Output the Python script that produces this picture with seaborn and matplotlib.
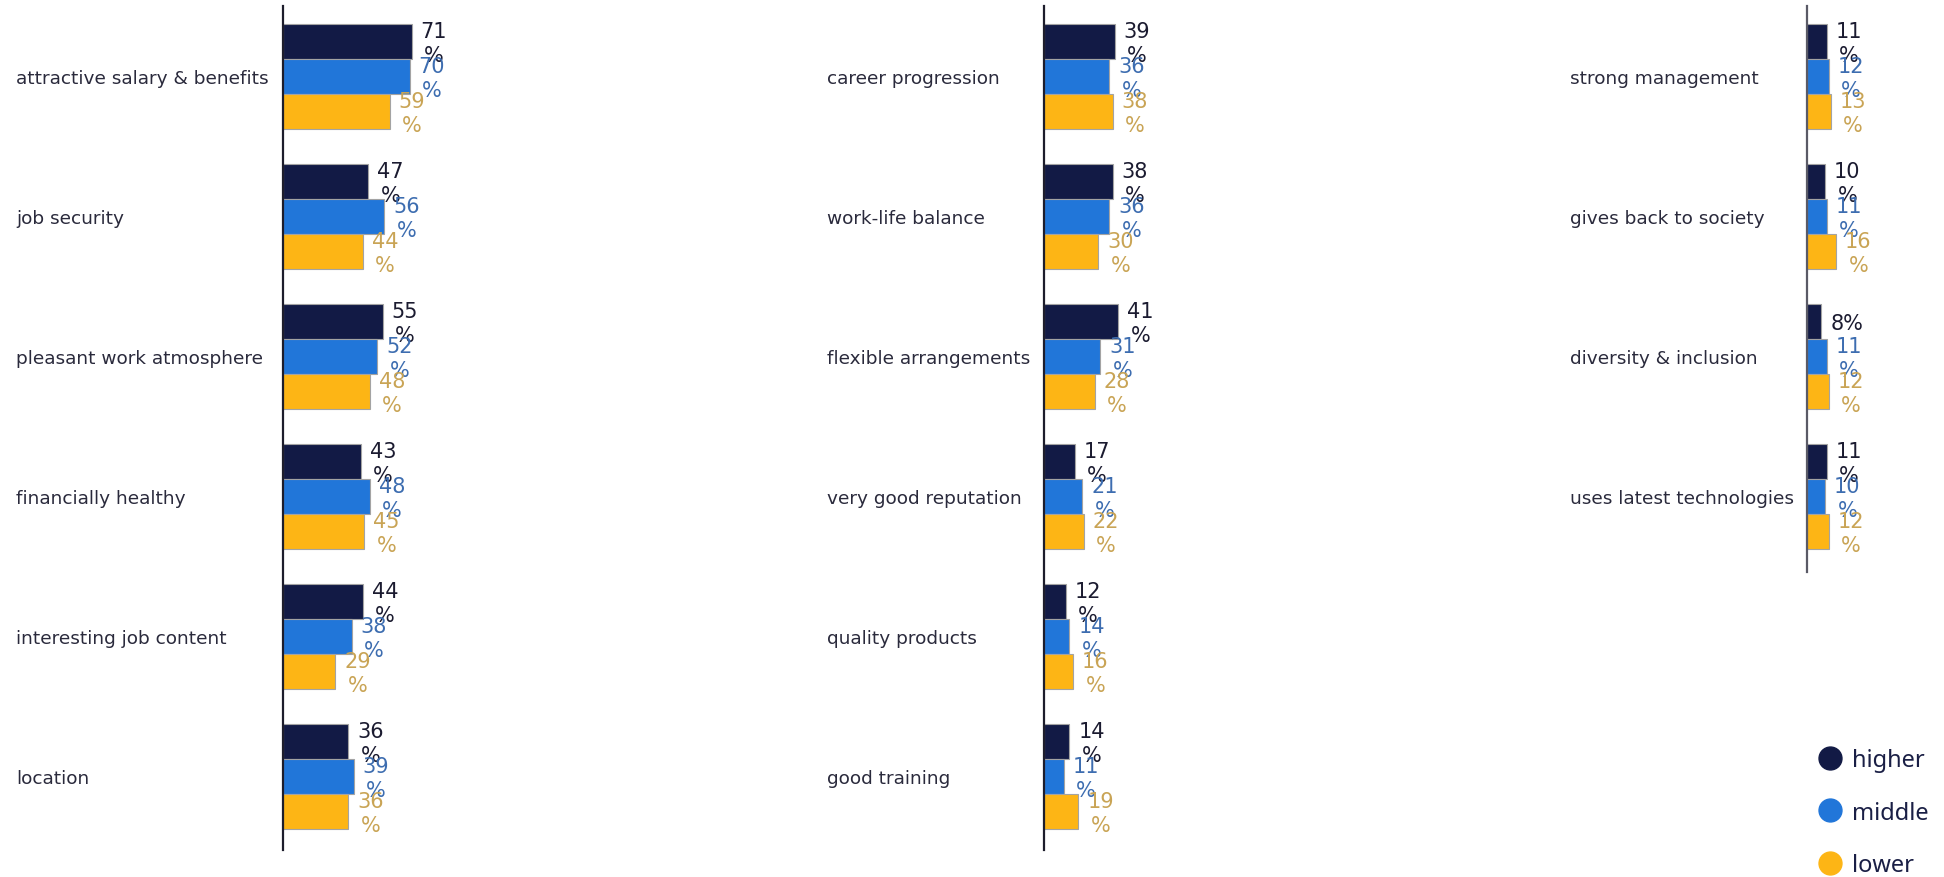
import matplotlib
matplotlib.use("Agg")
import matplotlib.pyplot as plt
from matplotlib.lines import Line2D
import pandas as pd
import seaborn as sns

# Education groups (hue) and their colours
groups = ["higher", "middle", "lower"]
bar_colors = ["#121a45", "#2176d9", "#fdb515"]
label_colors = ["#1b1b30", "#3d6db0", "#c9a455"]

# Left column of attributes
cats_left = ["attractive salary & benefits", "job security", "pleasant work atmosphere",
             "financially healthy", "interesting job content", "location"]
higher_left = [71, 47, 55, 43, 44, 36]
middle_left = [70, 56, 52, 48, 38, 39]
lower_left = [59, 44, 48, 45, 29, 36]

# Middle column of attributes
cats_mid = ["career progression", "work-life balance", "flexible arrangements",
            "very good reputation", "quality products", "good training"]
higher_mid = [39, 38, 41, 17, 12, 14]
middle_mid = [36, 36, 31, 21, 14, 11]
lower_mid = [38, 30, 28, 22, 16, 19]

# Right column of attributes
cats_right = ["strong management", "gives back to society", "diversity & inclusion",
              "uses latest technologies"]
higher_right = [11, 10, 8, 11]
middle_right = [12, 11, 11, 10]
lower_right = [13, 16, 12, 12]

sns.set_theme(style="white")
plt.rcParams["font.family"] = ["DejaVu Sans"]

W, H = 1944, 878
fig = plt.figure(figsize=(W / 100, H / 100), dpi=100)
fig.patch.set_facecolor("white")

ROW_PX = 140
TOP_PX = 7
XMAX = 100
X_PX = 181


def long_frame(cats, series):
    rows = []
    for g, vals in zip(groups, series):
        for c, v in zip(cats, vals):
            rows.append({"attribute": c, "group": g, "share": v})
    return pd.DataFrame(rows)


def panel(left_px, label_px, cats, series, spine_color, tail_px):
    n = len(cats)
    h = n * ROW_PX + tail_px
    ax = fig.add_axes([left_px / W, (H - TOP_PX - h) / H, X_PX / W, h / H])
    df = long_frame(cats, series)
    sns.barplot(data=df, y="attribute", x="share", hue="group", order=cats,
                hue_order=groups, palette=bar_colors, saturation=1, width=0.75,
                orient="h", edgecolor="#a3a3a3", linewidth=0.8, legend=False,
                errorbar=None, ax=ax)
    ax.set_xlim(0, XMAX)
    ax.set_ylim(n - 0.5 + tail_px / ROW_PX, -0.5)
    ax.set_xlabel("")
    ax.set_ylabel("")
    ax.set_xticks([])
    for s in ("top", "right", "bottom"):
        ax.spines[s].set_visible(False)
    ax.spines["left"].set_color(spine_color)
    ax.spines["left"].set_linewidth(1.6)
    ax.tick_params(axis="y", length=0, pad=(left_px - label_px) * 0.72,
                   labelsize=13.3, labelcolor="#2a2a3c")
    for t in ax.get_yticklabels():
        t.set_ha("left")

    for container, vals, col in zip(ax.containers, series, label_colors):
        for bar, v in zip(container, vals):
            txt = f"{v}%" if v < 10 else f"{v}\n%"
            ax.annotate(txt, (bar.get_width(), bar.get_y() + bar.get_height() / 2),
                        xytext=(6.5, -1.5), textcoords="offset points",
                        ha="left", va="center", multialignment="center",
                        fontsize=15, color=col, linespacing=1.22,
                        annotation_clip=False)
    return ax


panel(283, 16, cats_left, [higher_left, middle_left, lower_left], "#1d1d2c", 4)
panel(1044, 827, cats_mid, [higher_mid, middle_mid, lower_mid], "#1d1d2c", 4)
panel(1807, 1570, cats_right, [higher_right, middle_right, lower_right], "#5a5a66", 6)

handles = [Line2D([0], [0], marker="o", linestyle="none", markersize=16.5,
                  markerfacecolor=c, markeredgecolor=c) for c in bar_colors]
fig.legend(handles, groups, loc="upper left",
           bbox_to_anchor=(1818 / W, 1 - 749 / H), frameon=False,
           handlelength=1.0, handletextpad=0.45, labelspacing=1.21,
           borderpad=0, borderaxespad=0,
           prop={"family": "Noto Sans", "size": 17}, labelcolor="#1a1f45")

fig.savefig("out.png", dpi=100, facecolor="white")
